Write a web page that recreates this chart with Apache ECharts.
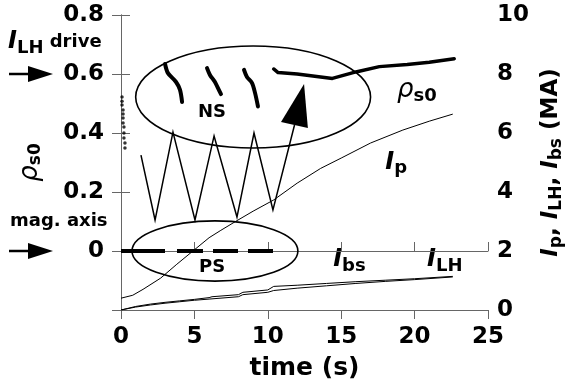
<!DOCTYPE html>
<html>
<head>
<meta charset="utf-8">
<script src="https://cdn.jsdelivr.net/npm/echarts@6.0.0/dist/echarts.min.js"></script>
<style>
html,body{margin:0;padding:0;background:#fff}
#chart{width:569px;height:385px}
</style>
</head>
<body>
<div id="chart"></div>
<script>
// time (s) / value pairs
var ipData = [[0,0.4],[0.8,0.5],[1.5,0.7],[2.7,1.08],[3.8,1.55],[4.9,2.0],[6,2.45],[6.8,2.7],[7.8,3.0],[9,3.35],[10.4,3.73],[12,4.3],[13.6,4.8],[15,5.15],[17,5.66],[19.2,6.1],[21,6.4],[22.6,6.64]];
var ibsData = [[0,0],[1,0.12],[2,0.2],[3,0.26],[4,0.31],[5,0.36],[6,0.42],[6.2,0.45],[8,0.52],[8.3,0.6],[10,0.68],[10.4,0.8],[12,0.84],[14,0.9],[16,0.96],[18,1.01],[20,1.06],[22.6,1.14]];
var ilhData = [[0,0],[1,0.1],[2,0.17],[3,0.23],[4,0.28],[5,0.33],[6,0.37],[8,0.45],[8.3,0.52],[10,0.6],[10.4,0.66],[12,0.74],[14,0.82],[16,0.9],[18,0.97],[20,1.03],[22.6,1.12]];

// rho_s0 (left axis)
var rhoData = [[10.4,0.617],[10.7,0.605],[12,0.6],[14.4,0.585],[16,0.607],[17.6,0.625],[19.5,0.632],[21,0.64],[22.7,0.652]];
var nsData1 = [[3.0,0.634],[3.2,0.603],[3.75,0.573],[4.02,0.546],[4.16,0.505]];
var nsData2 = [[5.86,0.62],[6.06,0.597],[6.4,0.573],[6.6,0.553],[6.81,0.532]];
var nsData3 = [[8.38,0.614],[8.58,0.59],[8.92,0.57],[9.13,0.536],[9.33,0.49]];
var rhoDots = [[0.07,0.522],[0.07,0.508],[0.07,0.495],[0.14,0.478],[0.14,0.464],[0.14,0.451],[0.14,0.434],[0.2,0.42],[0.2,0.4],[0.2,0.383],[0.27,0.366],[0.27,0.349]];
var psData = [[0,0],[10.6,0]];
var zigData = [[1.36,0.325],[2.32,0.105],[3.54,0.403],[5.04,0.105],[6.34,0.39],[7.9,0.115],[9.06,0.40],[10.35,0.139],[11.82,0.427]];
var arrowHead = [[12.47,0.566,10.9,0.437,12.73,0.417]];
// centre t, centre rho, half width (s), half height (rho)
var ellipses = [[9.0,0.522,8.0,0.173],[6.4,0.0,5.65,0.102]];

var FONT = 'DejaVu Sans';
var AX = '#666';

var chart = echarts.init(document.getElementById('chart'));

var subRich = {
	i:{fontFamily:FONT,fontWeight:'bold',fontStyle:'italic',fontSize:24,color:'#000',lineHeight:32},
	s:{fontFamily:FONT,fontWeight:'bold',fontSize:18,color:'#000',lineHeight:32,verticalAlign:'bottom',padding:[0,0,1,0]},
	n:{fontFamily:FONT,fontWeight:'bold',fontSize:22,color:'#000',lineHeight:32},
	r:{fontFamily:FONT,fontStyle:'italic',fontSize:26,color:'#000',lineHeight:32},
	d:{fontFamily:FONT,fontWeight:'bold',fontSize:18,color:'#000',lineHeight:32}
};
var nameRich = {
	i:{fontFamily:FONT,fontWeight:'bold',fontStyle:'italic',fontSize:23,color:'#000',lineHeight:30},
	s:{fontFamily:FONT,fontWeight:'bold',fontSize:17,color:'#000',lineHeight:30,verticalAlign:'bottom',padding:[0,0,1,0]},
	n:{fontFamily:FONT,fontWeight:'bold',fontSize:23,color:'#000',lineHeight:30},
	r:{fontFamily:FONT,fontStyle:'italic',fontSize:26,color:'#000',lineHeight:30}
};

var option = {
	animation:false,
	backgroundColor:'#fff',
	grid:{left:121,right:81,top:15,bottom:75,containLabel:false,outerBoundsMode:'none'},
	xAxis:[
		{
			type:'value',min:0,max:25,interval:5,
			name:'time (s)',nameLocation:'middle',nameGap:46,
			nameTextStyle:{fontFamily:FONT,fontWeight:'bold',fontSize:25,color:'#000'},
			axisLine:{lineStyle:{color:AX}},
			axisTick:{inside:true,length:9,lineStyle:{color:AX}},
			axisLabel:{fontFamily:FONT,fontWeight:'bold',fontSize:23,color:'#000',margin:16},
			splitLine:{show:false}
		},
		{
			type:'value',min:0,max:25,interval:5,position:'top',
			axisLine:{lineStyle:{color:AX}},
			axisTick:{inside:true,length:9,lineStyle:{color:AX}},
			axisLabel:{show:false},
			splitLine:{show:false}
		}
	],
	yAxis:[
		{
			type:'value',min:-0.2,max:0.8,interval:0.2,position:'left',
			name:'{r|ρ}{s|s0}',nameLocation:'middle',nameGap:76,nameRotate:90,
			nameTextStyle:{rich:nameRich},
			axisLine:{lineStyle:{color:AX}},
			axisTick:{inside:true,length:9,lineStyle:{color:AX}},
			axisLabel:{fontFamily:FONT,fontWeight:'bold',fontSize:23,color:'#000',margin:17,
				formatter:function(v){
					if(v < -0.1) return '';
					if(Math.abs(v) < 1e-9) return '0';
					return v.toFixed(1);
				}},
			splitLine:{show:false}
		},
		{
			type:'value',min:0,max:10,interval:2,position:'right',
			name:'{i|I}{s|p}{n|, }{i|I}{s|LH}{n|, }{i|I}{s|bs}{n| (MA)}',
			nameLocation:'middle',nameGap:45,nameRotate:90,
			nameTextStyle:{rich:nameRich},
			axisLine:{lineStyle:{color:AX}},
			axisTick:{inside:true,length:9,lineStyle:{color:AX}},
			axisLabel:{fontFamily:FONT,fontWeight:'bold',fontSize:23,color:'#000',margin:9},
			splitLine:{show:false}
		}
	],
	series:[
		{type:'line',yAxisIndex:1,data:ipData,showSymbol:false,lineStyle:{color:'#000',width:1}},
		{type:'line',yAxisIndex:1,data:ibsData,showSymbol:false,lineStyle:{color:'#000',width:1}},
		{type:'line',yAxisIndex:1,data:ilhData,showSymbol:false,lineStyle:{color:'#000',width:1}},
		{type:'line',yAxisIndex:0,data:rhoData,showSymbol:false,lineStyle:{color:'#000',width:3.5,cap:'round',join:'round'}},
		{type:'line',yAxisIndex:0,data:nsData1,showSymbol:false,smooth:0.3,lineStyle:{color:'#000',width:4,cap:'round'}},
		{type:'line',yAxisIndex:0,data:nsData2,showSymbol:false,smooth:0.3,lineStyle:{color:'#000',width:4,cap:'round'}},
		{type:'line',yAxisIndex:0,data:nsData3,showSymbol:false,smooth:0.3,lineStyle:{color:'#000',width:4,cap:'round'}},
		{type:'scatter',yAxisIndex:0,data:rhoDots,symbolSize:3.5,itemStyle:{color:'#000'}},
		{type:'line',yAxisIndex:0,data:psData,showSymbol:false,lineStyle:{color:'#000',width:4,type:[44,12,26,10,25,10,25,10]}},
		{type:'line',yAxisIndex:0,data:zigData,showSymbol:false,lineStyle:{color:'#000',width:1.5,join:'miter'}},
		{
			type:'custom',yAxisIndex:0,data:arrowHead,encode:{x:0,y:1},silent:true,
			renderItem:function(params,api){
				var a = api.coord([api.value(0),api.value(1)]);
				var b = api.coord([api.value(2),api.value(3)]);
				var c = api.coord([api.value(4),api.value(5)]);
				return {type:'polygon',shape:{points:[a,b,c]},style:{fill:'#000'}};
			}
		},
		{
			type:'custom',yAxisIndex:0,data:ellipses,encode:{x:0,y:1},silent:true,
			renderItem:function(params,api){
				var c = api.coord([api.value(0),api.value(1)]);
				var s = api.size([api.value(2),api.value(3)]);
				return {type:'ellipse',shape:{cx:c[0],cy:c[1],rx:s[0],ry:s[1]},style:{fill:null,stroke:'#000',lineWidth:1.6}};
			}
		}
	]
};
chart.setOption(option);

// annotations, placed from data coordinates
function px(t,v,yi){
	return chart.convertToPixel({xAxisIndex:0,yAxisIndex:yi},[t,v]);
}
function txt(p,text,align){
	return {type:'text',x:p[0],y:p[1],silent:true,
		style:{text:text,rich:subRich,align:align||'left',verticalAlign:'middle',
			font:'bold 18px "DejaVu Sans"',fill:'#000'}};
}
function arrow(y){
	return {type:'group',silent:true,children:[
		{type:'line',shape:{x1:9,y1:y,x2:32,y2:y},style:{stroke:'#000',lineWidth:2.5}},
		{type:'polygon',shape:{points:[[28,y-8],[53,y],[28,y+8]]},style:{fill:'#000'}}
	]};
}
var y06 = px(0,0.6,0)[1];
var y00 = px(0,0,0)[1];
chart.setOption({
	graphic:[
		txt(px(6.2,0.471,0),'{d|NS}','center'),
		txt(px(6.2,-0.054,0),'{d|PS}','center'),
		txt(px(18.8,0.546,0),'{r|ρ}{s|s0}'),
		txt(px(18.0,5.0,1),'{i|I}{s|p}'),
		txt(px(14.45,1.69,1),'{i|I}{s|bs}'),
		txt(px(20.85,1.69,1),'{i|I}{s|LH}'),
		txt([8,y06-32],'{i|I}{s|LH}{d| drive}'),
		txt([10,y00-30],'{d|mag. axis}'),
		arrow(y06),
		arrow(y00)
	]
});
</script>
</body>
</html>
